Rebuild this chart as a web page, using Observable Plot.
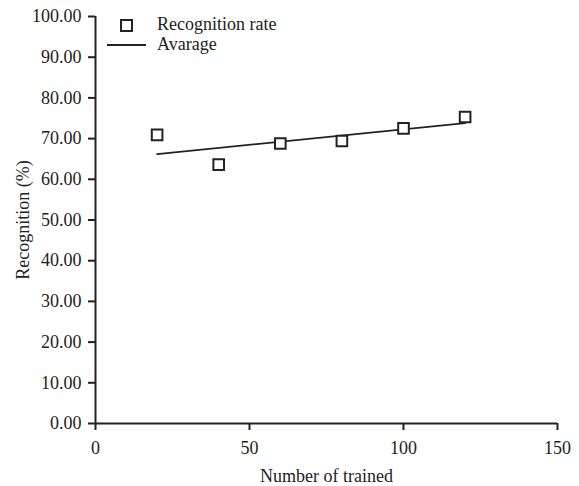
<!DOCTYPE html>
<html><head><meta charset="utf-8">
<script src="https://cdn.jsdelivr.net/npm/d3@7"></script>
<script src="https://cdn.jsdelivr.net/npm/@observablehq/plot@0.6"></script>
<style>
body{margin:0;background:#fff;}
#wrap{position:relative;width:579px;height:486px;font-family:"Liberation Serif","Times New Roman",Times,"DejaVu Serif",serif;}
#wrap svg text{font-family:"Liberation Serif","Times New Roman",Times,"DejaVu Serif",serif !important;}
#legend{position:absolute;left:0;top:0;pointer-events:none;}
</style></head><body><div id="wrap"></div>
<script>
// Data
const trained = [20, 40, 60, 80, 100, 120];
const recognition = [70.9, 63.6, 68.8, 69.4, 72.5, 75.3];
const avgTrained = [20, 120];
const avgRecognition = [66.2, 73.8];
const xTicks = [0, 50, 100, 150];
const yTicks = [0, 10, 20, 30, 40, 50, 60, 70, 80, 90, 100];
const seriesLabels = ["Recognition rate", "Avarage"];
const xLabel = "Number of trained";
const yLabel = "Recognition (%)";

const ink = "#222";
const serif = "Liberation Serif, Times New Roman, Times, DejaVu Serif, serif";
const points = trained.map((x, i) => ({x, y: recognition[i]}));
const avg = avgTrained.map((x, i) => ({x, y: avgRecognition[i]}));

const chart = Plot.plot({
  width: 579, height: 486,
  marginLeft: 95, marginRight: 22, marginTop: 16, marginBottom: 63,
  style: {fontFamily: serif, fontSize: "18px", color: ink, background: "white"},
  x: {domain: [0, 150]},
  y: {domain: [0, 100]},
  marks: [
    Plot.axisX({ticks: xTicks, tickSize: 7, tickPadding: 11, stroke: ink, strokeWidth: 2,
      label: xLabel, labelAnchor: "center", labelOffset: 58, labelArrow: "none"}),
    Plot.axisY({ticks: yTicks, tickSize: 7, tickPadding: 7, stroke: ink, strokeWidth: 2,
      tickFormat: d3.format(".2f"), label: yLabel, labelAnchor: "center", labelOffset: 79, labelArrow: "none"}),
    Plot.ruleX([0], {stroke: ink, strokeWidth: 2}),
    Plot.ruleY([0], {stroke: ink, strokeWidth: 2}),
    Plot.line(avg, {x: "x", y: "y", stroke: ink, strokeWidth: 1.8}),
    Plot.dot(points, {x: "x", y: "y", symbol: "square", r: 6, stroke: ink, strokeWidth: 2, fill: "white"})
  ]
});
const wrap = document.getElementById("wrap");
wrap.appendChild(chart);

// Legend overlay
const ns = "http://www.w3.org/2000/svg";
const lg = document.createElementNS(ns, "svg");
lg.setAttribute("id", "legend");
lg.setAttribute("width", 579); lg.setAttribute("height", 60);
lg.innerHTML = `
  <rect x="121" y="20" width="11" height="11" fill="white" stroke="${ink}" stroke-width="2"/>
  <line x1="107" x2="146" y1="45" y2="45" stroke="${ink}" stroke-width="2"/>
  <text x="157" y="30" font-size="18" fill="${ink}">${seriesLabels[0]}</text>
  <text x="157" y="50" font-size="18" fill="${ink}">${seriesLabels[1]}</text>`;
wrap.appendChild(lg);
</script>
</body></html>
